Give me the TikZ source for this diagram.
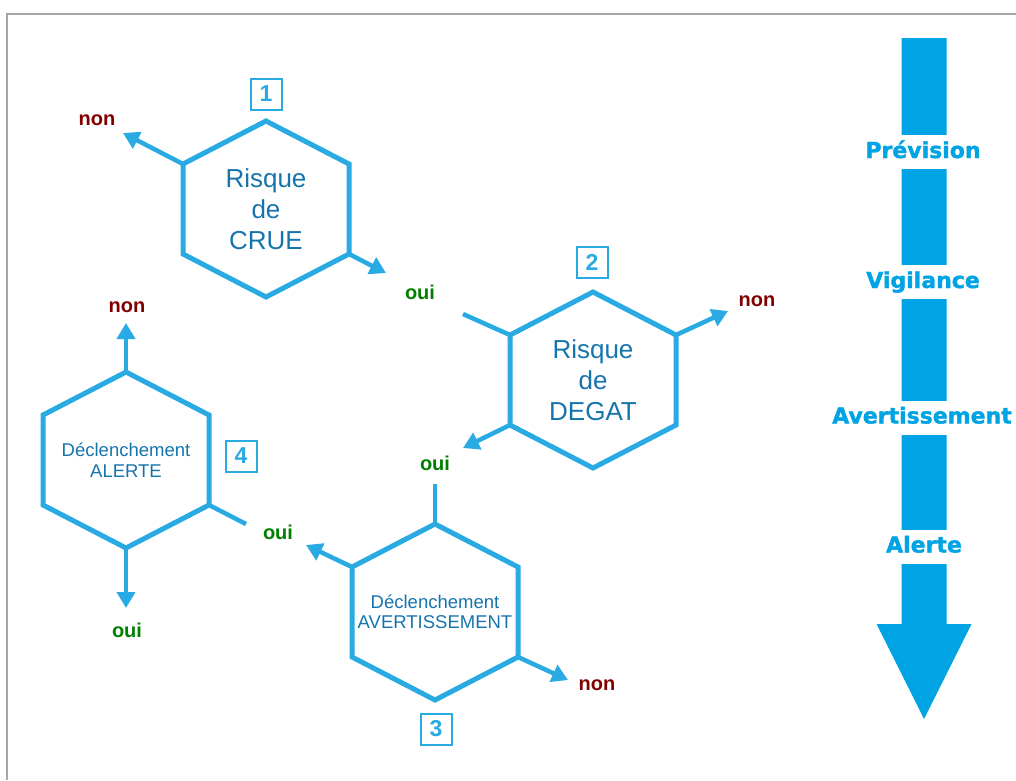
\documentclass[tikz,border=0pt]{standalone}
\usepackage{fontspec}
\setmainfont{Liberation Sans}
\newfontfamily\heavyfont{DejaVu Sans}[BoldFeatures={FakeBold=1.5}]
\usetikzlibrary{arrows.meta}
\definecolor{hexblue}{RGB}{41,170,226}
\definecolor{txtblue}{RGB}{22,116,172}
\definecolor{arrowblue}{RGB}{0,163,228}
\definecolor{nonred}{RGB}{128,0,0}
\definecolor{ouigreen}{RGB}{0,128,0}
\newcommand{\hexagon}[1]{%
\draw[hexline] ([shift={(0,-88)}]#1.center) coordinate (#1-n)
 -- ([shift={(83,-45)}]#1.center) coordinate (#1-ne)
 -- ([shift={(83,45)}]#1.center) coordinate (#1-se)
 -- ([shift={(0,88)}]#1.center) coordinate (#1-s)
 -- ([shift={(-83,45)}]#1.center) coordinate (#1-sw)
 -- ([shift={(-83,-45)}]#1.center) coordinate (#1-nw)
 -- cycle;}

\begin{document}
\begin{tikzpicture}[x=1pt,y=-1pt,
  hexline/.style={hexblue,line width=5pt},
  hextext/.style={align=center,text=txtblue,font=\fontsize{26}{31}\selectfont},
  smalltext/.style={align=center,text=txtblue,font=\fontsize{18.5}{20.5}\selectfont},
  flow/.style={hexblue,line width=4.5pt,-{Triangle[length=16pt,width=18pt]}},
  link/.style={hexblue,line width=4.5pt},
  nontxt/.style={text=nonred,font=\fontsize{20}{24}\selectfont\bfseries},
  ouitxt/.style={text=ouigreen,font=\fontsize{20}{24}\selectfont\bfseries},
  numbox/.style={draw=hexblue,line width=2pt,minimum size=31pt,inner sep=0pt,
    text=hexblue,font=\fontsize{23}{23}\selectfont\bfseries},
  phase/.style={fill=white,text=arrowblue,inner xsep=1pt,inner ysep=0pt,
    text height=16pt,text depth=4pt,minimum height=34pt,
    font=\heavyfont\fontsize{22}{22}\selectfont\bfseries}]
\useasboundingbox (0,0) rectangle (1016,780);
\draw[gray!70,line width=2pt] (7,780) -- (7,14) -- (1016,14);

\node[hextext] (h1) at (266,209) {Risque\\de\\CRUE};
\node[hextext] (h2) at (593,380) {Risque\\de\\DEGAT};
\node[smalltext] (h3) at (435,612) {Déclenchement\\AVERTISSEMENT};
\node[smalltext] (h4) at (126,460) {Déclenchement\\ALERTE};
\hexagon{h1}
\hexagon{h2}
\hexagon{h3}
\hexagon{h4}

\node[numbox] (b1) at (266,94) {1};
\node[numbox] (b2) at (592,262) {2};
\node[numbox] (b3) at (436,729) {3};
\node[numbox] (b4) at (241,456) {4};

\coordinate (e1) at (123,133);
\coordinate (e2) at (386,273);
\coordinate (e3) at (463,314);
\coordinate (e4) at (728,311);
\coordinate (e5) at (463,448);
\coordinate (e6) at (435,484);
\coordinate (e7) at (306,545);
\coordinate (e8) at (246,524);
\coordinate (e9) at (568,680);
\coordinate (e10) at (126,323);
\coordinate (e11) at (126,608);

\draw[flow] (h1-nw) -- (e1);
\draw[flow] (h1-se) -- (e2);
\draw[link] (e3) -- (h2-nw);
\draw[flow] (h2-ne) -- (e4);
\draw[flow] (h2-sw) -- (e5);
\draw[link] (e6) -- (h3-n);
\draw[flow] (h3-nw) -- (e7);
\draw[link] (e8) -- (h4-se);
\draw[flow] (h3-se) -- (e9);
\draw[flow] (h4-n) -- (e10);
\draw[flow] (h4-s) -- (e11);

\node[nontxt] (l1) at (97,120) {non};
\node[ouitxt] (l2) at (420,292) {oui};
\node[nontxt] (l3) at (757,301) {non};
\node[ouitxt] (l4) at (435,463) {oui};
\node[ouitxt] (l5) at (278,532) {oui};
\node[nontxt] (l6) at (597,685) {non};
\node[nontxt] (l7) at (127,307) {non};
\node[ouitxt] (l8) at (127,630) {oui};

\fill[arrowblue] (901.5,38) -- (946.5,38) -- (946.5,624) -- (971.5,624)
  -- (924,719) -- (876.5,624) -- (901.5,624) -- cycle;
\node[phase] (p1) at (923,152) {Prévision};
\node[phase] (p2) at (923,282) {Vigilance};
\node[phase] (p3) at (922,417.5) {Avertissement};
\node[phase] (p4) at (924,546.5) {Alerte};
\end{tikzpicture}
\end{document}
